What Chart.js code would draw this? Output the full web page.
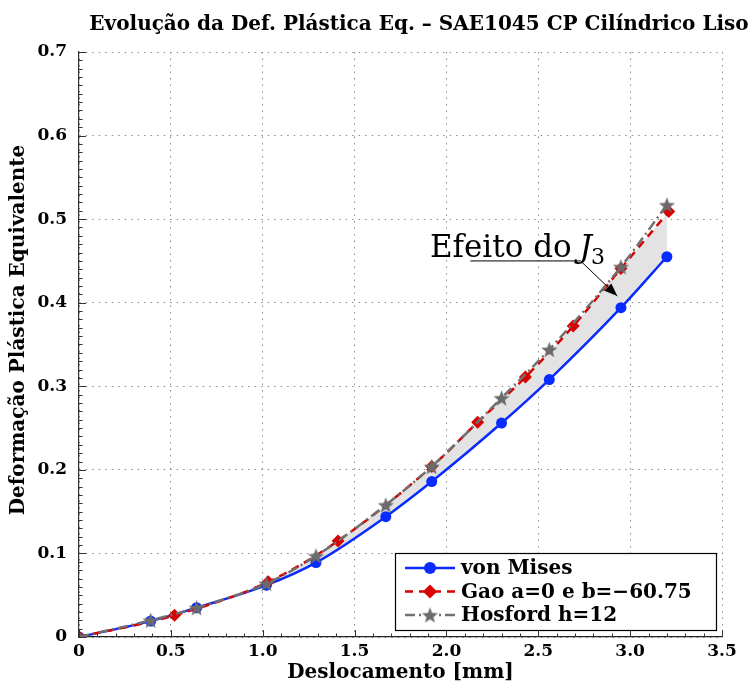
<!DOCTYPE html>
<html>
<head>
<meta charset="utf-8">
<script src="https://cdn.jsdelivr.net/npm/chart.js@4.4.1/dist/chart.umd.min.js"></script>
<style>
  html, body { margin: 0; padding: 0; background: #fff; }
  #wrap { width: 750px; height: 685px; }
</style>
</head>
<body>
<div id="wrap"><canvas id="chart" width="750" height="685"></canvas></div>
<script>
// Dados
const xVonMises = [0, 0.39, 0.64, 1.02, 1.29, 1.67, 1.92, 2.30, 2.56, 2.95, 3.20];
const yVonMises = [0, 0.019, 0.035, 0.062, 0.089, 0.144, 0.186, 0.256, 0.308, 0.394, 0.455];

const xGao = [0, 0.52, 1.03, 1.41, 1.92, 2.17, 2.43, 2.69, 2.95, 3.21];
const yGao = [0, 0.026, 0.066, 0.115, 0.204, 0.257, 0.311, 0.372, 0.441, 0.509];

const xHosford = [0, 0.39, 0.64, 1.02, 1.29, 1.67, 1.92, 2.30, 2.56, 2.95, 3.20];
const yHosford = [0, 0.020, 0.035, 0.064, 0.097, 0.158, 0.204, 0.286, 0.344, 0.443, 0.517];

const seriesLabels = ["von Mises", "Gao a=0 e b=\u221260.75", "Hosford h=12"];
const xTickValues = [0, 0.5, 1, 1.5, 2, 2.5, 3, 3.5];
const yTickValues = [0, 0.1, 0.2, 0.3, 0.4, 0.5, 0.6, 0.7];

const titleText = "Evolução da Def. Plástica Eq. \u2013 SAE1045 CP Cilíndrico Liso";
const yTitleText = "Deformação Plástica Equivalente";

// Anotação "Efeito do J3" (em unidades dos eixos)
const noteText = { x: 1.91, y: 0.4545 };
const noteLine = { x1: 2.13, x2: 2.73, y: 0.450 };
const noteArrow = { x: 2.93, y: 0.408 };

const SERIF = '"DejaVu Serif", "Liberation Serif", serif';

function toPoints(xs, ys) {
    return xs.map((x, i) => ({ x: x, y: ys[i] }));
}

// Estrela cheia de 5 pontas para o marcador Hosford
function makeStar(color, r) {
    const c = document.createElement("canvas");
    const size = Math.ceil(r * 2 + 2);
    c.width = size;
    c.height = size;
    const g = c.getContext("2d");
    const cx = size / 2, cy = size / 2 + 0.8;
    g.beginPath();
    for (let i = 0; i < 10; i++) {
        const rad = i % 2 === 0 ? r : r * 0.42;
        const a = -Math.PI / 2 + i * Math.PI / 5;
        const px = cx + rad * Math.cos(a);
        const py = cy + rad * Math.sin(a);
        if (i === 0) g.moveTo(px, py); else g.lineTo(px, py);
    }
    g.closePath();
    g.fillStyle = color;
    g.fill();
    return c;
}

const starImg = makeStar("#6b6b6b", 8.5);

const BLUE = "#0a2bff";
const RED = "#d80000";
const GRAY = "#707070";

// Título, ticks internos, anotação e legenda
const decorPlugin = {
    id: "decor",
    afterDraw(chart) {
        const ctx = chart.ctx;
        const xs = chart.scales.x, ys = chart.scales.y;
        const area = chart.chartArea;

        // título
        ctx.save();
        ctx.fillStyle = "#000";
        ctx.font = "bold 20px " + SERIF;
        ctx.textAlign = "center";
        ctx.textBaseline = "alphabetic";
        ctx.fillText(titleText, 419, 30);
        ctx.restore();

        // título do eixo y
        ctx.save();
        ctx.translate(19, 330);
        ctx.rotate(-Math.PI / 2);
        ctx.fillStyle = "#000";
        ctx.font = "bold 20px " + SERIF;
        ctx.textAlign = "center";
        ctx.textBaseline = "middle";
        ctx.fillText(yTitleText, 0, 0);
        ctx.restore();

        // ticks principais e secundários (para dentro)
        ctx.save();
        ctx.strokeStyle = "#333";
        ctx.lineWidth = 1;
        ctx.beginPath();
        for (let v = 0; v <= 3.5001; v += 0.1) {
            const px = Math.round(xs.getPixelForValue(v)) + 0.5;
            const major = Math.abs(v * 2 - Math.round(v * 2)) < 1e-6;
            const len = major ? 7 : 3.5;
            ctx.moveTo(px, area.bottom);
            ctx.lineTo(px, area.bottom - len);
        }
        for (let v = 0; v <= 0.7001; v += 0.01) {
            const py = Math.round(ys.getPixelForValue(v)) + 0.5;
            const major = Math.abs(v * 10 - Math.round(v * 10)) < 1e-6;
            const len = major ? 7 : 3.5;
            ctx.moveTo(area.left, py);
            ctx.lineTo(area.left + len, py);
        }
        ctx.stroke();
        ctx.restore();

        // anotação
        ctx.save();
        ctx.fillStyle = "#000";
        ctx.textBaseline = "alphabetic";
        const tx = xs.getPixelForValue(noteText.x);
        const ty = ys.getPixelForValue(noteText.y);
        ctx.font = "31px " + SERIF;
        const part1 = "Efeito do ";
        ctx.fillText(part1, tx, ty);
        let w = ctx.measureText(part1).width;
        ctx.font = "italic 31px " + SERIF;
        ctx.fillText("J", tx + w - 2, ty);
        w += ctx.measureText("J").width - 2;
        ctx.font = "22px " + SERIF;
        ctx.fillText("3", tx + w - 1, ty + 7);

        const lx1 = xs.getPixelForValue(noteLine.x1);
        const lx2 = xs.getPixelForValue(noteLine.x2);
        const ly = ys.getPixelForValue(noteLine.y);
        const ax = xs.getPixelForValue(noteArrow.x);
        const ay = ys.getPixelForValue(noteArrow.y);
        ctx.strokeStyle = "#000";
        ctx.lineWidth = 1;
        ctx.beginPath();
        ctx.moveTo(lx1, ly);
        ctx.lineTo(lx2, ly);
        ctx.lineTo(ax, ay);
        ctx.stroke();
        const ang = Math.atan2(ay - ly, ax - lx2);
        const hl = 13, hw = 5;
        ctx.beginPath();
        ctx.moveTo(ax, ay);
        ctx.lineTo(ax - hl * Math.cos(ang) + hw * Math.sin(ang), ay - hl * Math.sin(ang) - hw * Math.cos(ang));
        ctx.lineTo(ax - hl * Math.cos(ang) - hw * Math.sin(ang), ay - hl * Math.sin(ang) + hw * Math.cos(ang));
        ctx.closePath();
        ctx.fill();
        ctx.restore();

        // legenda
        const bw = 321, bh = 77;
        const bx = area.right - 6 - bw;
        const by = area.bottom - 7 - bh;
        ctx.save();
        ctx.fillStyle = "#fff";
        ctx.fillRect(bx, by, bw, bh);
        ctx.strokeStyle = "#000";
        ctx.lineWidth = 1.2;
        ctx.strokeRect(bx + 0.5, by + 0.5, bw, bh);
        const order = [2, 1, 0];
        order.forEach((di, row) => {
            const ds = chart.data.datasets[di];
            const cy = by + 15 + row * 23.5;
            ctx.save();
            ctx.strokeStyle = ds.borderColor;
            ctx.lineWidth = ds.borderWidth;
            ctx.setLineDash(ds.borderDash || []);
            ctx.beginPath();
            ctx.moveTo(bx + 10, cy);
            ctx.lineTo(bx + 60, cy);
            ctx.stroke();
            ctx.restore();
            if (typeof ds.pointStyle === "string") {
                ctx.fillStyle = ds.pointBackgroundColor;
                ctx.beginPath();
                if (ds.pointStyle === "circle") {
                    ctx.arc(bx + 35, cy, ds.pointRadius + 0.5, 0, Math.PI * 2);
                } else {
                    const r = ds.pointRadius + 0.5;
                    ctx.moveTo(bx + 35, cy - r);
                    ctx.lineTo(bx + 35 + r, cy);
                    ctx.lineTo(bx + 35, cy + r);
                    ctx.lineTo(bx + 35 - r, cy);
                    ctx.closePath();
                }
                ctx.fill();
            } else {
                ctx.drawImage(ds.pointStyle, bx + 35 - ds.pointStyle.width / 2, cy - ds.pointStyle.height / 2);
            }
            ctx.fillStyle = "#000";
            ctx.font = "bold 20px " + SERIF;
            ctx.textBaseline = "middle";
            ctx.fillText(seriesLabels[2 - di], bx + 66, cy + 1);
        });
        ctx.restore();
    }
};

new Chart(document.getElementById("chart"), {
    type: "line",
    data: {
        datasets: [
            {
                label: seriesLabels[2],
                data: toPoints(xHosford, yHosford),
                borderColor: GRAY,
                borderWidth: 2.5,
                borderDash: [10, 4, 2, 4],
                pointStyle: starImg,
                pointRadius: 8,
                cubicInterpolationMode: "monotone",
                fill: false,
            },
            {
                label: seriesLabels[1],
                data: toPoints(xGao, yGao),
                borderColor: RED,
                borderWidth: 2.5,
                borderDash: [8, 6],
                pointStyle: "rectRot",
                pointRadius: 6.5,
                pointBackgroundColor: RED,
                pointBorderColor: RED,
                pointBorderWidth: 0,
                cubicInterpolationMode: "monotone",
                fill: { target: 2 },
                backgroundColor: "rgba(226,226,226,0.95)",
            },
            {
                label: seriesLabels[0],
                data: toPoints(xVonMises, yVonMises),
                borderColor: BLUE,
                borderWidth: 2.5,
                pointStyle: "circle",
                pointRadius: 5.5,
                pointBackgroundColor: BLUE,
                pointBorderColor: BLUE,
                pointBorderWidth: 0,
                cubicInterpolationMode: "monotone",
                fill: false,
            },
        ],
    },
    options: {
        responsive: false,
        animation: false,
        layout: { padding: { top: 52, right: 28, left: 0, bottom: 0 } },
        plugins: {
            legend: { display: false },
            tooltip: { enabled: false },
            filler: { drawTime: "beforeDatasetsDraw" },
        },
        scales: {
            x: {
                type: "linear",
                min: 0,
                max: 3.5,
                afterFit: (s) => { s.height = 48; },
                afterBuildTicks: (s) => { s.ticks = xTickValues.map((v) => ({ value: v })); },
                ticks: {
                    color: "#000",
                    font: { family: SERIF, size: 17, weight: "bold" },
                    padding: 4,
                    maxRotation: 0,
                },
                grid: { color: "#8a8a8a", lineWidth: 1, drawTicks: false },
                border: { display: true, color: "#222", width: 1.2, dash: [1.5, 5] },
                title: {
                    display: true,
                    text: "Deslocamento [mm]",
                    color: "#000",
                    font: { family: SERIF, size: 20, weight: "bold" },
                    padding: { top: -4, bottom: 0 },
                },
            },
            y: {
                type: "linear",
                min: 0,
                max: 0.7,
                afterFit: (s) => { s.width = 79; },
                afterBuildTicks: (s) => { s.ticks = yTickValues.map((v) => ({ value: v })); },
                ticks: {
                    color: "#000",
                    font: { family: SERIF, size: 17, weight: "bold" },
                    padding: 12,
                    callback: (v) => (v === 0 ? "0" : v.toFixed(1)),
                },
                grid: { color: "#8a8a8a", lineWidth: 1, drawTicks: false },
                border: { display: true, color: "#333", width: 1.2, dash: [1.5, 5] },
                title: { display: false },
            },
        },
    },
    plugins: [decorPlugin],
});
</script>
</body>
</html>
